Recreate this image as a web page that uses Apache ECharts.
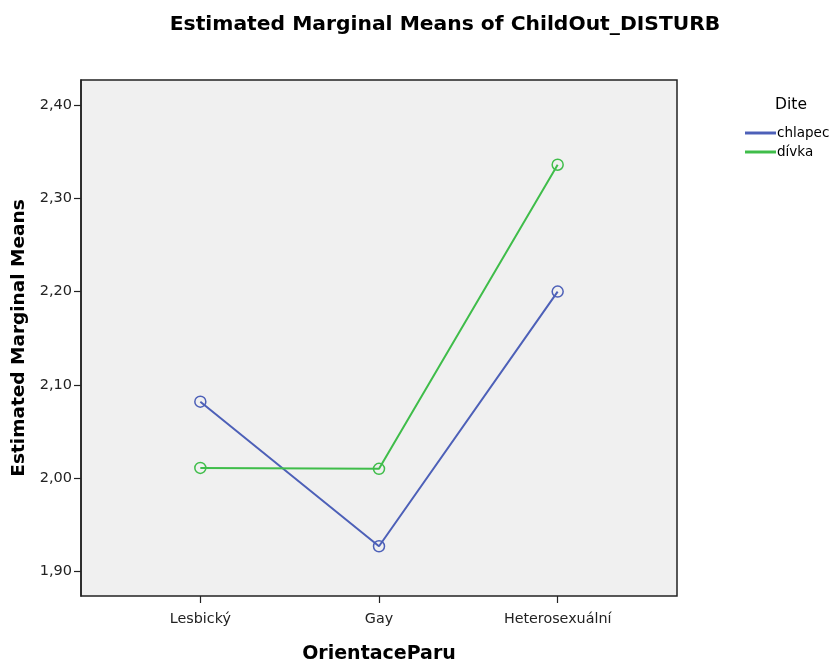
<!DOCTYPE html>
<html>
<head>
<meta charset="utf-8">
<script src="https://cdn.jsdelivr.net/npm/echarts@6/dist/echarts.min.js"></script>
<style>
  html, body { margin: 0; padding: 0; background: #fff; }
  #main { width: 833px; height: 666px; }
</style>
</head>
<body>
<div id="main"></div>
<script>
// kategorie na ose x
var categories = ['Lesbický', 'Gay', 'Heterosexuální']
// odhadnuté průměry (čteno z obrázku)
var chlapec = [2.082, 1.927, 2.200]
var divka = [2.011, 2.010, 2.336]
// popisky osy y
var yTicks = [1.9, 2.0, 2.1, 2.2, 2.3, 2.4]

var yMin = 1.8737
var yMax = 2.4268
var font = 'DejaVu Sans, sans-serif'

var myChart = echarts.init(document.getElementById('main'))

var option = {
  backgroundColor: '#fff',
  animation: false,
  title: [
    {
      text: 'Estimated Marginal Means of ChildOut_DISTURB',
      left: 440,
      top: 10,
      textAlign: 'center',
      textStyle: { fontFamily: font, fontSize: 20.3, fontWeight: 'bold', color: '#000' }
    },
    {
      text: 'Dite',
      left: 786,
      top: 92,
      textAlign: 'center',
      textStyle: { fontFamily: font, fontSize: 15.5, fontWeight: 'normal', color: '#000' }
    }
  ],
  legend: {
    orient: 'vertical',
    left: 740,
    top: 121,
    itemWidth: 29,
    itemHeight: 10,
    itemGap: 5,
    icon: 'path://M0,4.5 L30,4.5 L30,5.5 L0,5.5 Z',
    textStyle: { fontFamily: font, fontSize: 13.5, color: '#000', padding: [0, 0, 0, -3] },
    data: ['chlapec', 'dívka']
  },
  grid: [
    // ramecek
    { left: 81, top: 80, width: 596, height: 516, outerBoundsMode: 'none', show: true, backgroundColor: '#f0f0f0', borderColor: '#222', borderWidth: 1.5 },
    // vnitrni oblast pro kategorie
    { left: 111, top: 80, width: 536, height: 516, outerBoundsMode: 'none' }
  ],
  xAxis: [
    { gridIndex: 0, type: 'value', show: false, min: 0, max: 1 },
    {
      gridIndex: 1,
      type: 'category',
      data: categories,
      boundaryGap: true,
      axisLine: { show: false },
      axisTick: { show: true, alignWithLabel: true, length: 7, lineStyle: { color: '#222', width: 1.2 } },
      axisLabel: { margin: 16, fontFamily: font, fontSize: 14.3, color: '#222' },
      name: 'OrientaceParu',
      nameLocation: 'middle',
      nameGap: 49,
      nameTextStyle: { fontFamily: font, fontSize: 19, fontWeight: 'bold', color: '#000' }
    }
  ],
  yAxis: [
    {
      gridIndex: 0,
      type: 'value',
      min: yMin,
      max: yMax,
      splitLine: { show: false },
      axisLine: { show: true, lineStyle: { color: '#222', width: 1.5 } },
      axisTick: { show: true, length: 7, customValues: yTicks, lineStyle: { color: '#222', width: 1.2 } },
      axisLabel: {
        margin: 9,
        fontFamily: font,
        fontSize: 14.5,
        color: '#222',
        customValues: yTicks,
        formatter: function (v) { return v.toFixed(2).replace('.', ',') }
      },
      name: 'Estimated Marginal Means',
      nameLocation: 'middle',
      nameGap: 46,
      nameTextStyle: { fontFamily: font, fontSize: 18.5, fontWeight: 'bold', color: '#000' }
    },
    { gridIndex: 1, type: 'value', min: yMin, max: yMax, show: false }
  ],
  series: [
    {
      name: 'chlapec',
      type: 'line',
      xAxisIndex: 1,
      yAxisIndex: 1,
      data: chlapec,
      symbol: 'circle',
      symbolSize: 11,
      color: '#4d60b8',
      lineStyle: { width: 2, color: '#4d60b8' },
      itemStyle: { color: 'transparent', borderColor: '#4d60b8', borderWidth: 1.5 }
    },
    {
      name: 'dívka',
      type: 'line',
      xAxisIndex: 1,
      yAxisIndex: 1,
      data: divka,
      symbol: 'circle',
      symbolSize: 11,
      color: '#3fbd4a',
      lineStyle: { width: 2, color: '#3fbd4a' },
      itemStyle: { color: 'transparent', borderColor: '#3fbd4a', borderWidth: 1.5 }
    }
  ]
}
myChart.setOption(option)
</script>
</body>
</html>
